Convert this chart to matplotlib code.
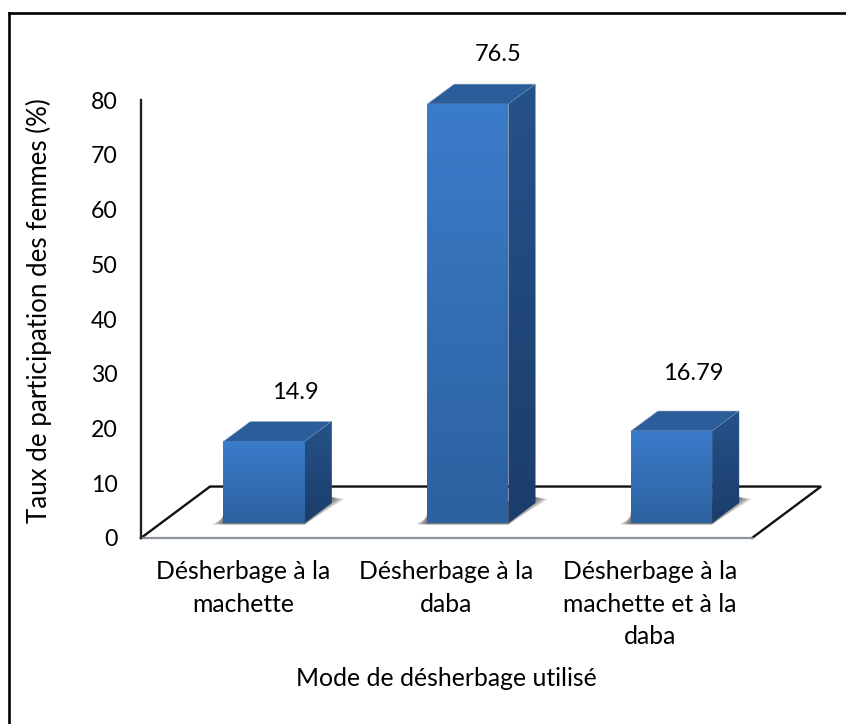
import matplotlib
matplotlib.use('Agg')
import matplotlib.pyplot as plt
import numpy as np
from matplotlib.lines import Line2D
from matplotlib.patches import Polygon

plt.rcParams['font.family'] = ['Lato', 'DejaVu Sans']

# Data
categories = ['Désherbage à la\nmachette', 'Désherbage à la\ndaba',
              'Désherbage à la\nmachette et à la\ndaba']
values = [14.9, 76.5, 16.79]
value_labels = ['14.9', '76.5', '16.79']
y_ticks = list(range(0, 90, 10))
y_label = 'Taux de participation des femmes (%)'
x_label = 'Mode de désherbage utilisé'

# Figure size in pixels, axes box measured on the reference
W, H = 846, 724
left, right, top, bottom = 141, 752, 100, 538
fs_text, fs_tick, fs_value, fs_ylab = 17.8, 16.6, 17, 18.6

# 3D look, in data units
bar_w = 0.40
bar_shift = 0.104
bar_lift = 2.75
depth_x, depth_y = 0.133, 3.66
floor_x, floor_y = 0.339, 9.4
label_dx = [0.256, 0.252, 0.211]
label_dy = [11.6, 11.8, 13.2]


def gradient(ax, poly, c_top, c_bottom, zorder):
    # vertical colour gradient clipped to a polygon
    xy = np.array(poly)
    c0, c1 = np.array(matplotlib.colors.to_rgb(c_top)), np.array(matplotlib.colors.to_rgb(c_bottom))
    t = np.linspace(0, 1, 64)[:, None, None]
    img = c0[None, None, :] * (1 - t) + c1[None, None, :] * t
    im = ax.imshow(img, extent=[xy[:, 0].min(), xy[:, 0].max(), xy[:, 1].min(), xy[:, 1].max()],
                   aspect='auto', origin='upper', zorder=zorder)
    patch = Polygon(xy, closed=True, transform=ax.transData, facecolor='none', edgecolor='none', clip_on=False)
    ax.add_patch(patch)
    im.set_clip_path(patch)
    im.set_clip_box(fig.bbox)


fig = plt.figure(figsize=(W / 100, H / 100), dpi=100, facecolor='w')
ax = fig.add_axes([left / W, 1 - bottom / H, (right - left) / W, (bottom - top) / H])
ax.patch.set_alpha(0)

# frame of the figure: only top and left edges are visible
fig.add_artist(Line2D([8.5 / W, 8.5 / W], [0, 1 - 13 / H], color='k', lw=1.9))
fig.add_artist(Line2D([8.5 / W, 1], [1 - 13 / H, 1 - 13 / H], color='k', lw=1.9))

# floor
ax.plot([-0.5, -0.5 + floor_x, 2.5 + floor_x, 2.5], [0, floor_y, floor_y, 0],
        color='#111111', lw=1.7, clip_on=False, zorder=2, solid_joinstyle='miter')
ax.plot([-0.5, 2.5], [0, 0], color='#8d939a', lw=1.6, clip_on=False, zorder=2)
ax.plot([-0.5, -0.5], [0, 80], color='#222222', lw=1.7, clip_on=False, zorder=2)

for i, v in enumerate(values):
    x0 = i + bar_shift - bar_w / 2
    x1 = x0 + bar_w
    y0 = bar_lift
    y1 = bar_lift + v

    # soft shadow on the floor, wider layers are fainter
    for k in range(7):
        g = 1 - k / 6
        shadow = [(x0 - 0.055 * g, y0 - 0.25), (x1, y0 - 0.25),
                  (x1 + depth_x + 0.06 * g, y0 + depth_y + 0.7),
                  (x1 + depth_x, y0 + depth_y + 1.1),
                  (x0, y0 + 2.0 * (1 - 0.6 * g))]
        ax.add_patch(Polygon(shadow, closed=True, facecolor='#4a4a4a', edgecolor='none',
                             alpha=0.17, zorder=3, clip_on=False))

    # top, side and front faces
    top_face = [(x0, y1), (x1, y1), (x1 + depth_x, y1 + depth_y), (x0 + depth_x, y1 + depth_y)]
    ax.add_patch(Polygon(top_face, closed=True, facecolor='#2b5d9b', edgecolor='#b8c8dc',
                         lw=0.4, zorder=4, clip_on=False))
    side = [(x1, y0), (x1, y1), (x1 + depth_x, y1 + depth_y), (x1 + depth_x, y0 + depth_y)]
    gradient(ax, side, '#26528a', '#1b3d6b', 4)
    front = [(x0, y0), (x1, y0), (x1, y1), (x0, y1)]
    gradient(ax, front, '#3b7cca', '#2c619f', 5)

    ax.text(i + label_dx[i], v + label_dy[i], value_labels[i], ha='center', va='center',
            fontsize=fs_value, color='k', zorder=6)

ax.set_xlim(-0.5, 2.5)
ax.set_ylim(0, 80)
ax.set_yticks(y_ticks)
ax.set_xticks(range(len(categories)))
ax.set_xticklabels(categories, fontsize=fs_text, linespacing=1.5)
ax.tick_params(axis='y', length=0, pad=17, labelsize=fs_tick)
ax.tick_params(axis='x', length=0, pad=16)
for s in ax.spines.values():
    s.set_visible(False)

fig.text(39 / W, 1 - 311 / H, y_label, rotation=90, ha='center', va='center', fontsize=fs_ylab)
fig.text(446 / W, 1 - 678 / H, x_label, ha='center', va='center', fontsize=fs_text)

fig.savefig('out.png', dpi=100)
